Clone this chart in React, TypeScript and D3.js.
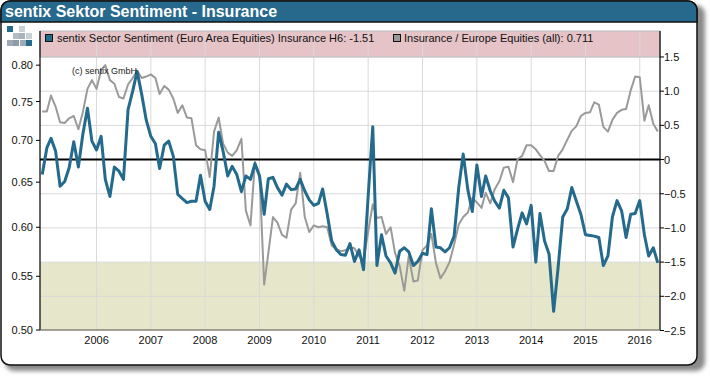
import React from "react";
import * as d3 from "d3";

const TITLE = "sentix Sektor Sentiment - Insurance";
const LEGEND_SENTIMENT = "sentix Sector Sentiment (Euro Area Equities) Insurance H6: -1.51";
const LEGEND_RELATIVE = "Insurance / Europe Equities (all): 0.711";
const COPYRIGHT = "(c) sentix GmbH";

const START_YEAR = 2005;
const START_MONTH = 0; // January
const yearTicks = [2006, 2007, 2008, 2009, 2010, 2011, 2012, 2013, 2014, 2015, 2016];
const leftTicks = [0.5, 0.55, 0.6, 0.65, 0.7, 0.75, 0.8];
const rightTicks = [-2.5, -2.0, -1.5, -1.0, -0.5, 0, 0.5, 1.0, 1.5];

// sentix sector sentiment (right axis)
const sentiment = [
  -0.22, 0.17, 0.31, 0.12, -0.39, -0.32, -0.12, 0.26, -0.11, 0.37, 0.75, 0.27,
  0.14, 0.34, -0.29, -0.54, -0.11, -0.17, -0.29, 0.73, 1.0, 1.29, 0.95, 0.58,
  0.34, 0.23, -0.13, 0.21, 0.27, 0.05, -0.51, -0.57, -0.63, -0.61, -0.61, -0.23,
  -0.61, -0.73, -0.39, 0.4, 0.12, -0.24, -0.1, -0.22, -0.47, -0.24, -0.29, -0.06,
  -0.24, -0.8, -0.28, -0.26, -0.41, -0.52, -0.36, -0.44, -0.43, -0.29, -0.46, -0.59,
  -0.67, -0.64, -0.43, -0.8, -1.19, -1.32, -1.39, -1.4, -1.23, -1.49, -1.32, -1.61,
  -0.54, 0.48, -1.55, -1.1, -1.41, -1.51, -1.66, -1.34, -1.29, -1.35, -1.55, -1.49,
  -1.37, -1.39, -0.72, -1.28, -1.29, -1.35, -1.29, -1.12, -0.41, 0.08, -0.44, -0.76,
  -0.08, -0.54, -0.24, -0.46, -0.61, -0.71, -0.45, -0.56, -1.28, -1.02, -0.78, -0.94,
  -0.67, -1.5, -0.79, -1.19, -1.38, -2.22, -1.58, -0.84, -0.72, -0.41, -0.61, -0.8,
  -1.1, -1.11, -1.12, -1.14, -1.55, -1.41, -0.84, -0.6, -0.75, -1.14, -0.8, -0.79,
  -0.6, -1.1, -1.41, -1.29, -1.51,
];

// Insurance / Europe Equities relative performance (left log axis)
const relative = [
  0.737, 0.737, 0.758, 0.743, 0.723, 0.722, 0.728, 0.731, 0.714, 0.736, 0.767, 0.779,
  0.767, 0.793, 0.8, 0.779, 0.774, 0.756, 0.754, 0.773, 0.782, 0.792, 0.782, 0.784,
  0.787, 0.782, 0.76, 0.771, 0.766, 0.754, 0.735, 0.745, 0.729, 0.728, 0.694, 0.689,
  0.688, 0.656, 0.711, 0.729, 0.696, 0.685, 0.681, 0.688, 0.702, 0.618, 0.602, 0.674,
  0.658, 0.542, 0.573, 0.611, 0.605, 0.592, 0.589, 0.619, 0.626, 0.661, 0.611, 0.595,
  0.602, 0.6, 0.601, 0.6, 0.581, 0.577, 0.575, 0.576, 0.579, 0.578, 0.57, 0.566,
  0.595, 0.625, 0.61, 0.611, 0.593, 0.6, 0.573, 0.56, 0.536, 0.57, 0.545, 0.546,
  0.576, 0.581, 0.593, 0.563, 0.548, 0.555, 0.564, 0.582, 0.603, 0.611, 0.616, 0.632,
  0.627, 0.621, 0.638, 0.626, 0.642, 0.651, 0.667, 0.668, 0.65, 0.677, 0.681, 0.694,
  0.694, 0.689, 0.682, 0.675, 0.663, 0.663, 0.681, 0.689, 0.701, 0.712, 0.718, 0.731,
  0.735, 0.736, 0.749, 0.746, 0.717, 0.711, 0.726, 0.735, 0.739, 0.74, 0.765, 0.784,
  0.783, 0.725, 0.745, 0.721, 0.711,
];

const months = sentiment.map((_, i) => new Date(START_YEAR, START_MONTH + i, 1));

const W = 710;
const H = 376;
const PL = 40;
const PR = 660;
const PT = 31;
const PB = 330;
const BLUE = "#246a8c";
const GRAY = "#9a9a9a";
const FONT = "Liberation Sans, Arial, sans-serif";

export default function App() {
  const x = d3
    .scaleTime()
    .domain([new Date(2004, 11, 17), new Date(2016, 4, 16)])
    .range([PL, PR]);
  const yR = d3.scaleLinear().domain([-2.5, 1.88]).range([PB + 0.5, PT]);
  const yL = d3.scaleLog().domain([0.5, 0.85]).range([PB, PT]);

  const blueLine = d3
    .line<number>()
    .x((_, i) => x(months[i]))
    .y((d) => yR(d))(sentiment) as string;
  const grayLine = d3
    .line<number>()
    .x((_, i) => x(months[i]))
    .y((d) => yL(d))(relative) as string;

  const fmtR = (v: number) => (v === 0 ? "0" : d3.format(".1f")(v));
  const fmtL = d3.format(".2f");

  const logo = [
    [7, 26, BLUE], [19, 26, "#c9d0d6"],
    [13, 33, "#b4bcc3"], [19, 33, "#a9b3bb"], [26, 33, "#c9d0d6"],
    [7, 40, "#9eaab4"], [13, 40, "#8e9ba6"], [20, 40, "#9eaab4"], [26, 40, BLUE],
  ] as [number, number, string][];

  return (
    <div style={{ position: "absolute", left: 0, top: 0, width: W, height: H }}>
      <svg width={W} height={H} style={{ display: "block" }} fontFamily={FONT}>
        <defs>
          <filter id="sh" x="-5%" y="-5%" width="110%" height="110%">
            <feGaussianBlur stdDeviation="2" />
          </filter>
          <clipPath id="plotclip">
            <rect x={PL} y={PT} width={PR - PL} height={PB - PT} />
          </clipPath>
        </defs>
        {/* card shadow */}
        <rect x={5} y={5} width={700} height={366} rx={9} fill="#8a8a8a" filter="url(#sh)" />
        {/* card */}
        <rect x={1} y={1} width={696} height={364} rx={9} fill="#fff" stroke="#111" strokeWidth={1.5} />
        {/* title bar */}
        <path d="M1,22 V10 A9,9 0 0 1 10,1 H688 A9,9 0 0 1 697,10 V22 Z" fill="#27698c" stroke="#111" strokeWidth={1.5} />
        <text x={5} y={17} fill="#fff" fontSize={16} fontWeight="bold">{TITLE}</text>
        {/* logo */}
        {logo.map(([lx, ly, c], i) => (
          <rect key={"lg" + i} x={lx} y={ly} width={6} height={6} fill={c} />
        ))}

        {/* bands */}
        <rect x={PL} y={yR(-1.5)} width={PR - PL} height={yR(-2.5) - yR(-1.5)} fill="#e6e6ca" />
        <rect x={PL} y={PT} width={PR - PL} height={yR(1.5) - PT} fill="#e5c3c6" />

        {/* grid */}
        {rightTicks
          .filter((t) => t !== 0 && t !== -2.5)
          .map((t) => (
            <line key={"hg" + t} x1={PL} x2={PR} y1={yR(t)} y2={yR(t)} stroke="#d9d9d9" strokeWidth={1} />
          ))}
        {yearTicks.map((yr) => {
          const xx = x(new Date(yr, 0, 1));
          return <line key={"vg" + yr} x1={xx} x2={xx} y1={PT} y2={PB} stroke="#d9d9d9" strokeWidth={1} />;
        })}
        <rect x={PL} y={PT} width={PR - PL} height={yR(1.5) - PT} fill="none" stroke="#bbb" strokeWidth={1} />

        {/* zero line */}
        <line x1={PL} x2={PR} y1={yR(0)} y2={yR(0)} stroke="#000" strokeWidth={2} />

        {/* series */}
        <g clipPath="url(#plotclip)">
          <path d={grayLine} fill="none" stroke={GRAY} strokeWidth={2} strokeLinejoin="round" />
          <path d={blueLine} fill="none" stroke={BLUE} strokeWidth={3} strokeLinejoin="round" />
        </g>

        {/* axes */}
        <line x1={PL} x2={PL} y1={PT} y2={PB} stroke="#000" strokeWidth={1.2} />
        <line x1={PR} x2={PR} y1={PT} y2={PB} stroke="#000" strokeWidth={1.2} />
        <line x1={PL} x2={PR} y1={PB} y2={PB} stroke="#555" strokeWidth={1} />
        {leftTicks.map((t) => (
          <g key={"lt" + t}>
            <line x1={PL - 4} x2={PL} y1={yL(t)} y2={yL(t)} stroke="#000" />
            <text x={PL - 7} y={yL(t) + 4} textAnchor="end" fontSize={11} fill="#111">
              {fmtL(t)}
            </text>
          </g>
        ))}
        {rightTicks.map((t) => (
          <g key={"rt" + t}>
            <line x1={PR} x2={PR + 4} y1={yR(t)} y2={yR(t)} stroke="#000" />
            <text x={PR + 4} y={yR(t) + 4} textAnchor="start" fontSize={11} fill="#111">
              {fmtR(t)}
            </text>
          </g>
        ))}
        {yearTicks.map((yr) => (
          <text key={"yl" + yr} x={x(new Date(yr, 0, 1))} y={344} textAnchor="middle" fontSize={11} fill="#111">
            {yr}
          </text>
        ))}

        {/* legend */}
        <rect x={45.5} y={34.5} width={7} height={7} fill={BLUE} stroke="#111" strokeWidth={1} />
        <text x={57} y={42} fontSize={11} fill="#111">{LEGEND_SENTIMENT}</text>
        <rect x={393.5} y={34.5} width={7} height={7} fill={GRAY} stroke="#111" strokeWidth={1} />
        <text x={404} y={42} fontSize={11} fill="#111">{LEGEND_RELATIVE}</text>

        <text x={72} y={74} fontSize={9} fill="#222">{COPYRIGHT}</text>
      </svg>
    </div>
  );
}
